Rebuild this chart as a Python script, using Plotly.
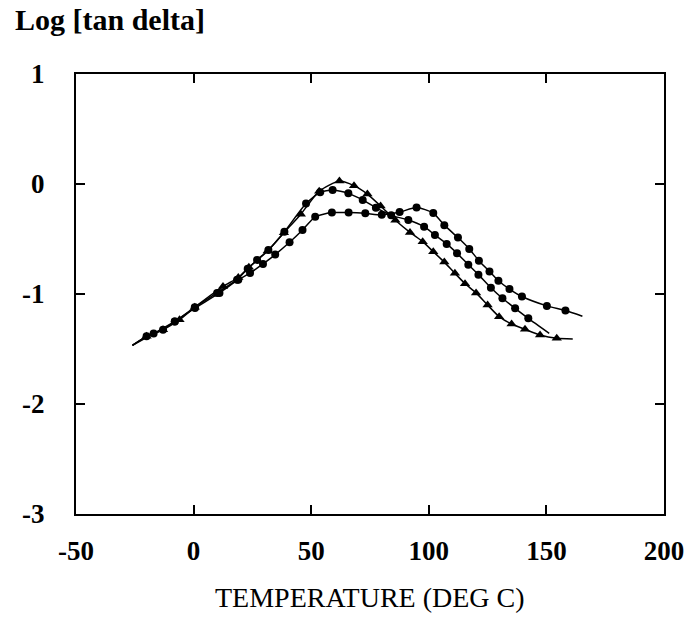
import plotly.graph_objects as go

# Temperature (deg C) and log(tan delta) for the three curves
temp_tri = [-26, -20, -13, -6, 0.5, 12.5, 19, 23.5, 31.5, 38.4, 45.6, 53.4, 62, 68.2, 73.9, 79.5, 85.8,
            92, 97.4, 101.9, 106.6, 111.1, 115.4, 120.1, 125, 129.9, 135.2, 140.9, 147.3, 154.4, 161.2]
logtan_tri = [-1.466, -1.385, -1.325, -1.234, -1.12, -0.932, -0.85, -0.757, -0.609, -0.443, -0.274, -0.065,
              0.027, -0.015, -0.092, -0.2, -0.33, -0.44, -0.524, -0.615, -0.71, -0.812, -0.906, -0.99,
              -1.1, -1.206, -1.273, -1.321, -1.373, -1.403, -1.409]

temp_mid = [-26, -17, -8, 0.5, 10, 18.5, 23, 27, 31.8, 38.6, 47.8, 53.8, 59.1, 65.8, 71.9, 77.5, 84,
            91.3, 98, 102.6, 107.6, 112, 116.8, 121.1, 126.4, 131.3, 136.7, 142.3, 151.2]
logtan_mid = [-1.466, -1.36, -1.25, -1.12, -0.99, -0.87, -0.77, -0.69, -0.60, -0.434, -0.177, -0.075,
              -0.055, -0.085, -0.145, -0.215, -0.285, -0.327, -0.388, -0.464, -0.545, -0.63, -0.733,
              -0.824, -0.943, -1.039, -1.13, -1.221, -1.357]

temp_flat = [-26, -20, -13, -8, 0.6, 11, 19, 24, 29.5, 34.7, 40.8, 46.3, 51.7, 58.8, 65.9, 73, 80, 87.6,
             94.8, 101.9, 106.6, 112.4, 117.2, 121.3, 125.8, 129.6, 134.3, 139.6, 150.2, 158.1, 165.3]
logtan_flat = [-1.466, -1.385, -1.325, -1.25, -1.128, -0.99, -0.87, -0.81, -0.727, -0.642, -0.53, -0.418,
               -0.298, -0.26, -0.26, -0.267, -0.28, -0.255, -0.214, -0.264, -0.374, -0.487, -0.59,
               -0.697, -0.795, -0.879, -0.955, -1.023, -1.108, -1.15, -1.202]

x_ticks = [-50, 0, 50, 100, 150, 200]
x_ticktext = ["-50", "0", "50", "100", "150", "200"]
y_ticks = [1, 0, -1, -2, -3]
y_ticktext = ["1", "0", "-1", "-2", "-3"]

SERIF = "Liberation Serif, Times New Roman, serif"

fig = go.Figure()
series = [
    (temp_flat, logtan_flat, "circle", 8),
    (temp_mid, logtan_mid, "circle", 8),
    (temp_tri, logtan_tri, "triangle-up", 9),
]
for xs, ys, sym, sz in series:
    fig.add_trace(go.Scatter(x=xs, y=ys, mode="lines",
                             line=dict(color="black", width=1.5, shape="spline", smoothing=0.6),
                             hoverinfo="skip", showlegend=False))
    fig.add_trace(go.Scatter(x=xs[1:-1], y=ys[1:-1], mode="markers",
                             marker=dict(symbol=sym, size=sz, color="black"),
                             showlegend=False))

axis_common = dict(showline=True, linecolor="black", linewidth=2, mirror="ticks",
                   ticks="inside", ticklen=9, tickwidth=1.5, tickcolor="black",
                   showgrid=False, zeroline=False, automargin=False,
                   tickfont=dict(family=SERIF, size=27, color="black"))

fig.update_xaxes(range=[-50, 200], tickvals=x_ticks,
                 ticktext=["<b>%s</b>" % t for t in x_ticktext],
                 ticklabelstandoff=12, **axis_common)
fig.update_yaxes(range=[-3, 1], tickvals=y_ticks,
                 ticktext=["<b>%s</b>" % t for t in y_ticktext],
                 ticklabelstandoff=24, **axis_common)

fig.update_layout(
    template="none",
    width=688, height=630,
    margin=dict(l=76, r=24, t=74, b=116, autoexpand=False),
    paper_bgcolor="white", plot_bgcolor="white",
    font=dict(family=SERIF, color="black"),
    annotations=[
        dict(text="<b>Log [tan delta]</b>", xref="paper", yref="paper",
             x=-0.107, y=1.125, xanchor="left", yanchor="middle", showarrow=False,
             font=dict(family=SERIF, size=30, color="black")),
        dict(text="TEMPERATURE (DEG C)", xref="paper", yref="paper",
             x=0.5, y=-0.19, xanchor="center", yanchor="middle", showarrow=False,
             font=dict(family=SERIF, size=28, color="black")),
    ],
)

fig.write_html("out.html", config={"displayModeBar": False},
               post_script="document.body.style.margin='0px';")
